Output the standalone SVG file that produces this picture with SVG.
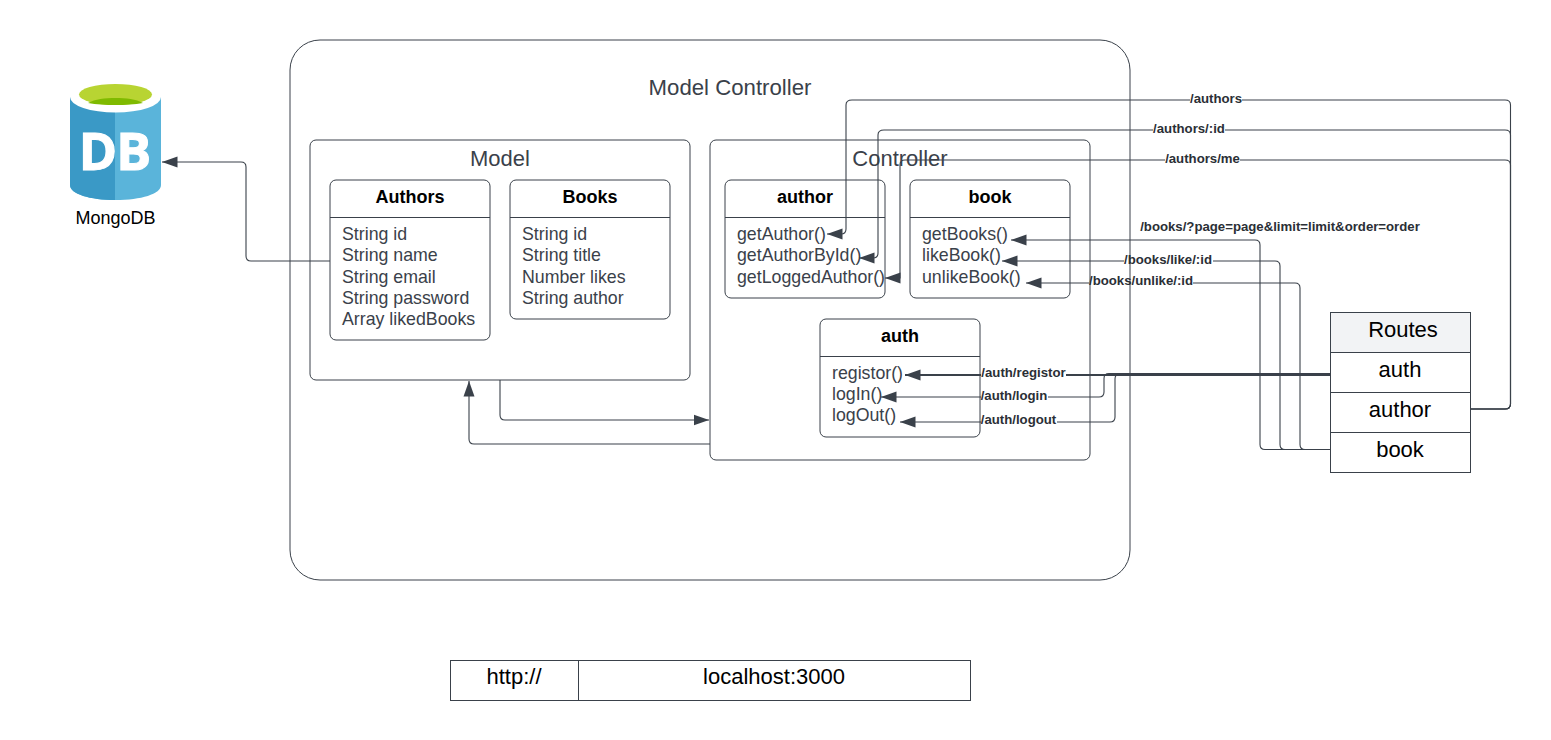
<svg xmlns="http://www.w3.org/2000/svg" width="1551" height="740" viewBox="0 0 1551 740">
<style>
text{font-family:"Liberation Sans",Arial,sans-serif}
.box{fill:#fff;stroke:#3a414a;stroke-width:1}
.nf{fill:none;stroke:#3a414a;stroke-width:1}
.title{fill:#3a414a;text-anchor:middle}
.head{font-size:18px;font-weight:700;fill:#000;text-anchor:middle}
.item{font-size:17.75px;fill:#3a414a}
.lab{font-size:13.2px;font-weight:700;fill:#2b2f36;text-anchor:middle}
.cell{font-size:22px;fill:#000;text-anchor:middle}
.c{fill:none;stroke:#3a414a;stroke-width:1.1;marker-end:url(#a)}
.t{stroke-width:2}
</style>
<defs>
<marker id="a" markerUnits="userSpaceOnUse" markerWidth="16" markerHeight="12" refX="15.500" refY="6" orient="auto"><path d="M0 0.500L15.500 6L0 11.500Z" fill="#3a414a"/></marker>
<mask id="gaps" maskUnits="userSpaceOnUse" x="0" y="0" width="1551" height="740">
<rect width="1551" height="740" fill="#fff"/>
<g fill="#000">
<rect x="1190" y="92" width="52" height="14"/>
<rect x="1153" y="122" width="72" height="14"/>
<rect x="1165" y="152" width="75" height="14"/>
<rect x="1124" y="254" width="89" height="14"/>
<rect x="1089" y="276" width="104" height="14"/>
<rect x="981" y="366" width="85" height="14"/>
<rect x="981" y="389" width="67" height="14"/>
<rect x="981" y="413" width="76" height="14"/>
</g>
</mask>
</defs>
<rect width="1551" height="740" fill="#fff"/>

<g id="mongodb">
<path d="M70 97V185C70 194 90 200 115.500 200C141 200 161 194 161 185V97Z" fill="#5ab4da"/>
<path d="M70 97V185C70 194 90 200 115 200V97Z" fill="#3a99c6"/>
<ellipse cx="115.500" cy="97" rx="45.500" ry="15.500" fill="#fff"/>
<ellipse cx="115.500" cy="94.500" rx="36.500" ry="10.500" fill="#b8d432"/>
<path d="M88 103C95 99 105 98 115.500 98C126 98 136 99 143 103C135 104.500 125 105 115.500 105C106 105 96 104.500 88 103Z" fill="#7fba00"/>
<text x="114.500" y="170" font-size="52" font-weight="700" fill="#fff" stroke="#fff" stroke-width="1" letter-spacing="-1" text-anchor="middle" style="font-family:'Open Sans','Liberation Sans',sans-serif">DB</text>
<text x="115.500" y="224" font-size="18" fill="#000" text-anchor="middle">MongoDB</text>
</g>

<g id="model-controller">
<rect class="box" x="290" y="40" width="840" height="540" rx="30"/>
<text class="title" x="730" y="95" font-size="22.200">Model Controller</text>
</g>

<g id="model">
<rect class="box" x="310" y="140" width="380" height="240" rx="6"/>
<text class="title" x="500" y="166" font-size="22">Model</text>
</g>
<g id="authors">
<rect class="box" x="330" y="180" width="160" height="160" rx="6"/>
<path class="nf" d="M330 217.500H490"/>
<text class="head" x="410" y="203">Authors</text>
<text class="item" x="342" y="240">String id</text>
<text class="item" x="342" y="261">String name</text>
<text class="item" x="342" y="283">String email</text>
<text class="item" x="342" y="304">String password</text>
<text class="item" x="342" y="325">Array likedBooks</text>
</g>
<g id="books">
<rect class="box" x="510" y="180" width="160" height="139" rx="6"/>
<path class="nf" d="M510 217.500H670"/>
<text class="head" x="590" y="203">Books</text>
<text class="item" x="522" y="240">String id</text>
<text class="item" x="522" y="261">String title</text>
<text class="item" x="522" y="283">Number likes</text>
<text class="item" x="522" y="304">String author</text>
</g>

<g id="controller">
<rect class="box" x="710" y="140" width="380" height="320" rx="6"/>
<text class="title" x="900" y="166" font-size="22">Controller</text>
</g>
<g id="author">
<rect class="box" x="725" y="180" width="160" height="118" rx="6"/>
<path class="nf" d="M725 217.500H885"/>
<text class="head" x="805" y="203">author</text>
<text class="item" x="737" y="240">getAuthor()</text>
<text class="item" x="737" y="261">getAuthorById()</text>
<text class="item" x="737" y="283">getLoggedAuthor()</text>
</g>
<g id="book">
<rect class="box" x="910" y="180" width="160" height="118" rx="6"/>
<path class="nf" d="M910 217.500H1070"/>
<text class="head" x="990" y="203">book</text>
<text class="item" x="922" y="240">getBooks()</text>
<text class="item" x="922" y="261">likeBook()</text>
<text class="item" x="922" y="283">unlikeBook()</text>
</g>
<g id="auth">
<rect class="box" x="820" y="319" width="160" height="118" rx="6"/>
<path class="nf" d="M820 356.500H980"/>
<text class="head" x="900" y="342">auth</text>
<text class="item" x="832" y="379">registor()</text>
<text class="item" x="832" y="400">logIn()</text>
<text class="item" x="832" y="421">logOut()</text>
</g>

<g id="routes">
<rect x="1330.500" y="312.500" width="140" height="40" fill="#f2f3f5" stroke="#3a414a"/>
<rect class="box" x="1330.500" y="352.500" width="140" height="40"/>
<rect class="box" x="1330.500" y="392.500" width="140" height="40"/>
<rect class="box" x="1330.500" y="432.500" width="140" height="40"/>
<text class="cell" x="1403" y="337">Routes</text>
<text class="cell" x="1400" y="377">auth</text>
<text class="cell" x="1400" y="417">author</text>
<text class="cell" x="1400" y="457">book</text>
</g>

<g id="server">
<rect class="box" x="450.500" y="660.500" width="128" height="40"/>
<rect class="box" x="578.500" y="660.500" width="392" height="40"/>
<text class="cell" x="514" y="684">http://</text>
<text class="cell" x="774" y="684">localhost:3000</text>
</g>

<g id="connectors">
<g mask="url(#gaps)">
<path class="c" d="M330 261H251Q246 261 246 256V167Q246 162 241 162H162"/>
<path class="c" d="M500 380V415Q500 420 505 420H709"/>
<path class="c" d="M710 444H474Q469 444 469 439V381"/>

<path class="c" d="M1471 409H1505Q1510.500 409 1510.500 404V105Q1510.500 100 1505 100H852Q846 100 846 105V229Q846 234 841 234H827"/>
<path class="c" d="M1471 409H1505Q1510.500 409 1510.500 404V135Q1510.500 130 1505 130H884Q878 130 878 135V253Q878 258 873 258H859"/>
<path class="c" d="M1471 409H1505Q1510.500 409 1510.500 404V165Q1510.500 160 1505 160H905Q900 160 900 165V278H885"/>

<path class="c" d="M1330 449.500H1265Q1260 449.500 1260 444.500V245Q1260 240 1255 240H1011"/>
<path class="c" d="M1330 449.500H1285Q1280 449.500 1280 444.500V266Q1280 261 1275 261H1002"/>
<path class="c" d="M1330 449.500H1305Q1300 449.500 1300 444.500V288Q1300 283 1295 283H1026"/>

<path class="c t" d="M1330 375H905"/>
<path class="c" d="M1330 373.500H1109Q1104 373.500 1104 378.500V392Q1104 397 1099 397H881"/>
<path class="c" d="M1330 374H1120Q1115 374 1115 379V417Q1115 422 1110 422H900"/>
</g>
<g>
<text class="lab" x="1216" y="102.500">/authors</text>
<text class="lab" x="1189" y="132.500">/authors/:id</text>
<text class="lab" x="1202.500" y="162.500">/authors/me</text>
<text class="lab" x="1280" y="231">/books/?page=page&amp;limit=limit&amp;order=order</text>
<text class="lab" x="1168" y="263.500">/books/like/:id</text>
<text class="lab" x="1141" y="285">/books/unlike/:id</text>
<text class="lab" x="1023.500" y="377">/auth/registor</text>
<text class="lab" x="1014" y="399.500">/auth/login</text>
<text class="lab" x="1018.500" y="423.500">/auth/logout</text>
</g>
</g>
</svg>
